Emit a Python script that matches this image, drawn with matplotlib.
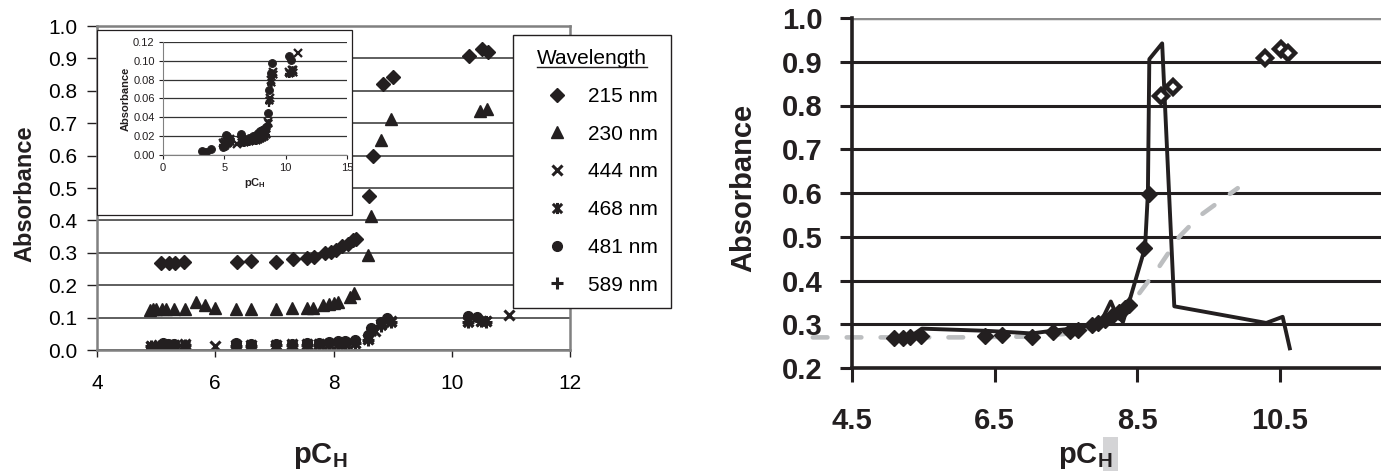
import numpy as np
import matplotlib
matplotlib.use("Agg")
import matplotlib.pyplot as plt
from matplotlib.path import Path
from matplotlib.patches import Rectangle
from matplotlib.lines import Line2D

plt.rcParams['font.family'] = ['Liberation Sans', 'DejaVu Sans']
plt.rcParams['mathtext.fontset'] = 'custom'
plt.rcParams['mathtext.rm'] = 'Liberation Sans'
plt.rcParams['mathtext.bf'] = 'Liberation Sans:bold'

INK = '#231f20'

# ---- data ----
pch_215 = [5.09, 5.21, 5.32, 5.47, 6.36, 6.61, 7.02, 7.32, 7.56, 7.67, 7.86, 7.95,
           8.05, 8.15, 8.25, 8.33, 8.38, 8.60, 8.66, 8.83, 9.00, 10.29, 10.51, 10.61]
abs_215 = [0.269, 0.268, 0.270, 0.273, 0.273, 0.276, 0.272, 0.282, 0.285, 0.287, 0.298, 0.303,
           0.310, 0.320, 0.328, 0.338, 0.344, 0.475, 0.598, 0.821, 0.843, 0.908, 0.930, 0.920]

pch_230 = [4.89, 4.95, 5.0, 5.1, 5.17, 5.31, 5.48, 5.68, 5.82, 6.0, 6.35, 6.6, 7.02, 7.30,
           7.55, 7.66, 7.83, 7.92, 8.0, 8.08, 8.28, 8.34, 8.59, 8.64, 8.81, 8.98, 10.47, 10.59]
abs_230 = [0.122, 0.126, 0.128, 0.128, 0.128, 0.128, 0.127, 0.148, 0.140, 0.131, 0.127, 0.127,
           0.127, 0.131, 0.130, 0.131, 0.139, 0.143, 0.145, 0.149, 0.165, 0.175, 0.292, 0.415,
           0.649, 0.713, 0.738, 0.743]

pch_444 = [4.92, 5.05, 5.2, 5.3, 5.48, 6.0, 6.35, 6.6, 7.02, 7.3, 7.55, 7.75, 7.92, 8.08,
           8.2, 8.36, 8.59, 8.7, 8.81, 8.97, 10.27, 10.49, 10.58, 10.97]
abs_444 = [0.013, 0.014, 0.015, 0.015, 0.017, 0.012, 0.016, 0.015, 0.016, 0.017, 0.017, 0.018,
           0.019, 0.020, 0.021, 0.023, 0.035, 0.060, 0.080, 0.088, 0.088, 0.090, 0.090, 0.108]

pch_468 = [4.92, 5.05, 5.2, 5.3, 5.48, 6.35, 6.6, 7.02, 7.3, 7.55, 7.75, 7.92, 8.08, 8.2,
           8.36, 8.59, 8.64, 8.81, 8.97, 10.27, 10.49, 10.58]
abs_468 = [0.012, 0.013, 0.013, 0.014, 0.015, 0.014, 0.014, 0.015, 0.016, 0.016, 0.017, 0.018,
           0.019, 0.020, 0.022, 0.034, 0.058, 0.078, 0.086, 0.087, 0.090, 0.088]

pch_481 = [3.17, 3.49, 3.92, 4.92, 5.05, 5.12, 5.2, 5.3, 5.48, 6.35, 6.6, 7.02, 7.3, 7.55,
           7.75, 7.92, 8.08, 8.2, 8.36, 8.59, 8.64, 8.81, 8.91, 10.27, 10.43]
abs_481 = [0.004, 0.003, 0.006, 0.009, 0.010, 0.021, 0.020, 0.018, 0.016, 0.022, 0.017, 0.018,
           0.020, 0.021, 0.023, 0.025, 0.027, 0.028, 0.030, 0.045, 0.069, 0.087, 0.098, 0.105,
           0.101]

pch_589 = [4.92, 5.05, 5.2, 5.3, 5.48, 6.35, 6.6, 7.02, 7.3, 7.55, 7.75, 7.92, 8.08, 8.2,
           8.36, 8.59, 8.64, 8.81, 8.97, 10.27, 10.49, 10.58]
abs_589 = [0.011, 0.012, 0.012, 0.013, 0.014, 0.013, 0.013, 0.014, 0.015, 0.015, 0.016, 0.017,
           0.018, 0.019, 0.021, 0.032, 0.055, 0.075, 0.085, 0.086, 0.088, 0.087]

# right panel: solid trace and dashed fit
trace_x = [5.09, 5.21, 5.32, 5.48, 6.38, 6.61, 7.02, 7.35, 7.58, 7.69, 7.89, 7.99, 8.13,
           8.20, 8.30, 8.41, 8.61, 8.65, 8.67, 8.85, 9.02, 10.31, 10.54, 10.64]
trace_y = [0.270, 0.268, 0.272, 0.290, 0.285, 0.283, 0.279, 0.286, 0.290, 0.292, 0.300, 0.305,
           0.352, 0.325, 0.305, 0.364, 0.475, 0.600, 0.906, 0.942, 0.341, 0.303, 0.317, 0.245]
fit_x = [3.95, 5.0, 6.0, 7.0, 7.5, 7.8, 8.1, 8.3, 8.53, 8.81, 9.09, 9.37, 9.75, 9.91]
fit_y = [0.270, 0.270, 0.270, 0.272, 0.278, 0.290, 0.310, 0.335, 0.371, 0.432, 0.500, 0.547,
         0.592, 0.611]

wavelengths = ['215 nm', '230 nm', '444 nm', '468 nm', '481 nm', '589 nm']

star = Path([(-1, -1), (1, 1), (-1, 1), (1, -1), (0, -1.2), (0, 1.2)],
            [Path.MOVETO, Path.LINETO, Path.MOVETO, Path.LINETO, Path.MOVETO, Path.LINETO])

W, H = 1381, 471
fig = plt.figure(figsize=(W / 100, H / 100), dpi=100)


def px(x0, y0, x1, y1):
    return [x0 / W, 1 - y1 / H, (x1 - x0) / W, (y1 - y0) / H]


# ---------------- left panel ----------------
ax = fig.add_axes(px(97, 26, 570, 350))
styles = [
    dict(marker='D', ms=7, mfc=INK, mec=INK),
    dict(marker='^', ms=9, mfc=INK, mec=INK),
    dict(marker='x', ms=7, mec=INK, mew=2.2),
    dict(marker=star, ms=8, mec=INK, mfc='none', mew=2.2),
    dict(marker='o', ms=7, mfc=INK, mec=INK),
    dict(marker='+', ms=8, mec=INK, mew=2.2),
]
series = [(pch_215, abs_215), (pch_230, abs_230), (pch_444, abs_444),
          (pch_468, abs_468), (pch_481, abs_481), (pch_589, abs_589)]
handles = []
for (xs, ys), st, lab in zip(series, styles, wavelengths):
    h, = ax.plot(xs, ys, ls='none', label=lab, **st)
    handles.append(h)

ax.set_xlim(4, 12)
ax.set_ylim(0, 1.0)
ax.set_xticks([4, 6, 8, 10, 12])
ax.set_yticks(np.arange(0, 1.01, 0.1))
ax.set_yticklabels(['%.1f' % v for v in np.arange(0, 1.01, 0.1)])
ax.yaxis.grid(True, color='#333333', lw=1.1)
ax.set_axisbelow(True)
for s in ax.spines.values():
    s.set_color('#808080')
    s.set_linewidth(1.8)
ax.tick_params(axis='y', direction='out', length=7, width=1, color=INK, labelsize=15, pad=7)
ax.tick_params(axis='x', direction='out', length=5, width=1, color=INK, labelsize=15, pad=12)
fig.text(25 / W, 1 - 194 / H, 'Absorbance', rotation=90, fontsize=17, fontweight='bold',
         ha='center', va='center', color=INK)
fig.text(320 / W, 1 - 463 / H, r'$\mathbf{pC_H}$', fontsize=21, ha='center', va='baseline',
         color=INK)

# inset frame (white box over main plot)
ax.add_patch(Rectangle((97 / W, 1 - 215 / H), 255 / W, 185 / H, transform=fig.transFigure,
                       facecolor='white', edgecolor=INK, lw=0.9, zorder=10, clip_on=False))

ins = fig.add_axes(px(163, 42, 347, 155))
for (xs, ys), st in list(zip(series, styles))[2:]:
    st2 = dict(st)
    st2['ms'] = st2['ms'] * 0.8
    st2['mew'] = st2.get('mew', 1) * 0.75
    ins.plot(xs, ys, ls='none', **st2)
ins.set_xlim(0, 15)
ins.set_ylim(0, 0.12)
ins.set_xticks([0, 5, 10, 15])
ins.set_yticks(np.arange(0, 0.121, 0.02))
ins.set_yticklabels(['%.2f' % v for v in np.arange(0, 0.121, 0.02)])
ins.yaxis.grid(True, color='#333333', lw=0.9)
ins.set_axisbelow(True)
ins.spines['top'].set_visible(False)
ins.spines['right'].set_visible(False)
ins.spines['left'].set_color('#808080')
ins.spines['bottom'].set_color('#808080')
ins.tick_params(direction='out', length=3, width=0.8, color=INK, labelsize=8, pad=3,
                labelcolor=INK)
ins.set_ylabel('Absorbance', fontsize=8, fontweight='bold', labelpad=2, color=INK)
ins.set_xlabel(r'$\mathbf{pC_H}$', fontsize=8, labelpad=2, color=INK)

# legend
leg = fig.legend(handles=handles, labels=wavelengths, loc='upper left',
                 bbox_to_anchor=(513 / W, 1 - 35 / H), bbox_transform=fig.transFigure,
                 title='Wavelength', title_fontsize=15, fontsize=15, frameon=True,
                 fancybox=False, edgecolor=INK, framealpha=1, borderpad=0.65,
                 handlelength=2.9, handletextpad=0.05, labelspacing=0.9, borderaxespad=0)
leg.get_frame().set_linewidth(1.0)
leg._legend_box.sep = 14

# ---------------- right panel ----------------
ax2 = fig.add_axes(px(852, 18, 1381, 368))
ax2.plot(fit_x, fit_y, color='#bcbec0', lw=3.3, dashes=(3.2, 4.2), dash_capstyle='round',
         clip_on=False, zorder=2)
ax2.plot(trace_x, trace_y, color=INK, lw=2.8, zorder=3)
ax2.plot(pch_215[:19], abs_215[:19], ls='none', marker='D', ms=8, mfc=INK, mec=INK, zorder=4)
ax2.plot(pch_215[19:], abs_215[19:], ls='none', marker='D', ms=7, mfc='white', mec=INK,
         mew=3.2, zorder=4)
ax2.set_xlim(4.5, 4.5 + 529 / 71.3)
ax2.set_ylim(0.2, 1.0)
ax2.set_xticks([4.5, 6.5, 8.5, 10.5])
ax2.set_xticklabels(['4.5', '6.5', '8.5', '10.5'])
ax2.set_yticks(np.arange(0.2, 1.01, 0.1))
ax2.set_yticklabels(['%.1f' % v for v in np.arange(0.2, 1.01, 0.1)])
ax2.yaxis.grid(True, color=INK, lw=2.2)
ax2.get_ygridlines()[-1].set_visible(False)
ax2.axhline(1.0, color='#8c8c8c', lw=2.5, zorder=1)
ax2.spines['top'].set_visible(False)
ax2.spines['right'].set_visible(False)
for k in ('left', 'bottom'):
    ax2.spines[k].set_color(INK)
    ax2.spines[k].set_linewidth(2.6)
ax2.tick_params(axis='y', direction='out', length=9, width=2.2, color=INK, labelsize=21,
                pad=12)
ax2.tick_params(axis='x', direction='out', length=10, width=2.2, color=INK, labelsize=21,
                pad=18)
for t in ax2.get_xticklabels() + ax2.get_yticklabels():
    t.set_fontweight('bold')
    t.set_color(INK)
fig.text(743 / W, 1 - 188 / H, 'Absorbance', rotation=90, fontsize=21, fontweight='bold',
         ha='center', va='center', color=INK)
fig.patches.append(Rectangle((1103 / W, 0), 15 / W, 34 / H, transform=fig.transFigure,
                             facecolor='#d4d4d6', edgecolor='none', figure=fig))
fig.text(1085 / W, 1 - 463 / H, r'$\mathbf{pC_H}$', fontsize=21, ha='center', va='baseline',
         color=INK)

# underline the legend title
fig.canvas.draw()
bb = leg.get_title().get_window_extent()
inv = fig.transFigure.inverted()
(x0, y0), (x1, _) = inv.transform([(bb.x0, bb.y0 + 1), (bb.x1, bb.y0 + 1)])
fig.add_artist(Line2D([x0, x1], [y0, y0], transform=fig.transFigure, color=INK, lw=1.0,
                      zorder=20))

fig.savefig('out.png', dpi=100)
